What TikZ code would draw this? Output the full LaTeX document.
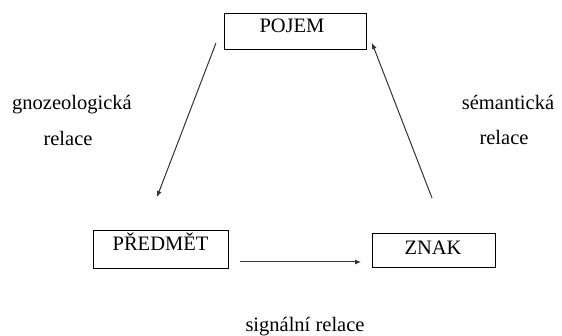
\documentclass[tikz,border=0pt]{standalone}
\usepackage{fontspec}
\setmainfont{Liberation Serif}
\newfontfamily\tnrfont{Liberation Serif}
\usetikzlibrary{arrows.meta}
\begin{document}
\begin{tikzpicture}[x=1pt,y=-1pt,
  box/.style={draw, line width=0.9pt, inner sep=0pt},
  txt/.style={font=\tnrfont\fontsize{20.5}{24}\selectfont, inner sep=0pt, anchor=base},
  arr/.style={line width=1pt, draw=black!80, -{Latex[length=6pt,width=5pt]}}]
\useasboundingbox (0,0) rectangle (562,336);
% boxes
\node[box, minimum width=142pt, minimum height=36pt] (pojem) at (295,31) {};
\node[box, minimum width=135pt, minimum height=38pt] (predmet) at (160.5,249) {};
\node[box, minimum width=123pt, minimum height=34pt] (znak) at (433.5,250) {};
% box texts
\node[txt] (tpojem) at (292,33) {POJEM};
\node[txt] (tpredmet) at (160.5,251) {PŘEDMĚT};
\node[txt] (tznak) at (433,255) {ZNAK};
% labels
\node[txt] (g1) at (72,110) {gnozeologická};
\node[txt] (g2) at (68,146) {relace};
\node[txt] (s1) at (508,110) {sémantická};
\node[txt] (s2) at (504,145) {relace};
\node[txt] (sig) at (305,332) {signální relace};
% connector end points
\coordinate (a1s) at (216,43);
\coordinate (a1e) at (157,197);
\coordinate (a2s) at (432,198);
\coordinate (a2e) at (372,43);
\coordinate (a3s) at (240,262);
\coordinate (a3e) at (361,262);
\draw[arr] (a1s) -- (a1e);
\draw[arr] (a2s) -- (a2e);
\draw[arr] (a3s) -- (a3e);
\end{tikzpicture}
\end{document}
